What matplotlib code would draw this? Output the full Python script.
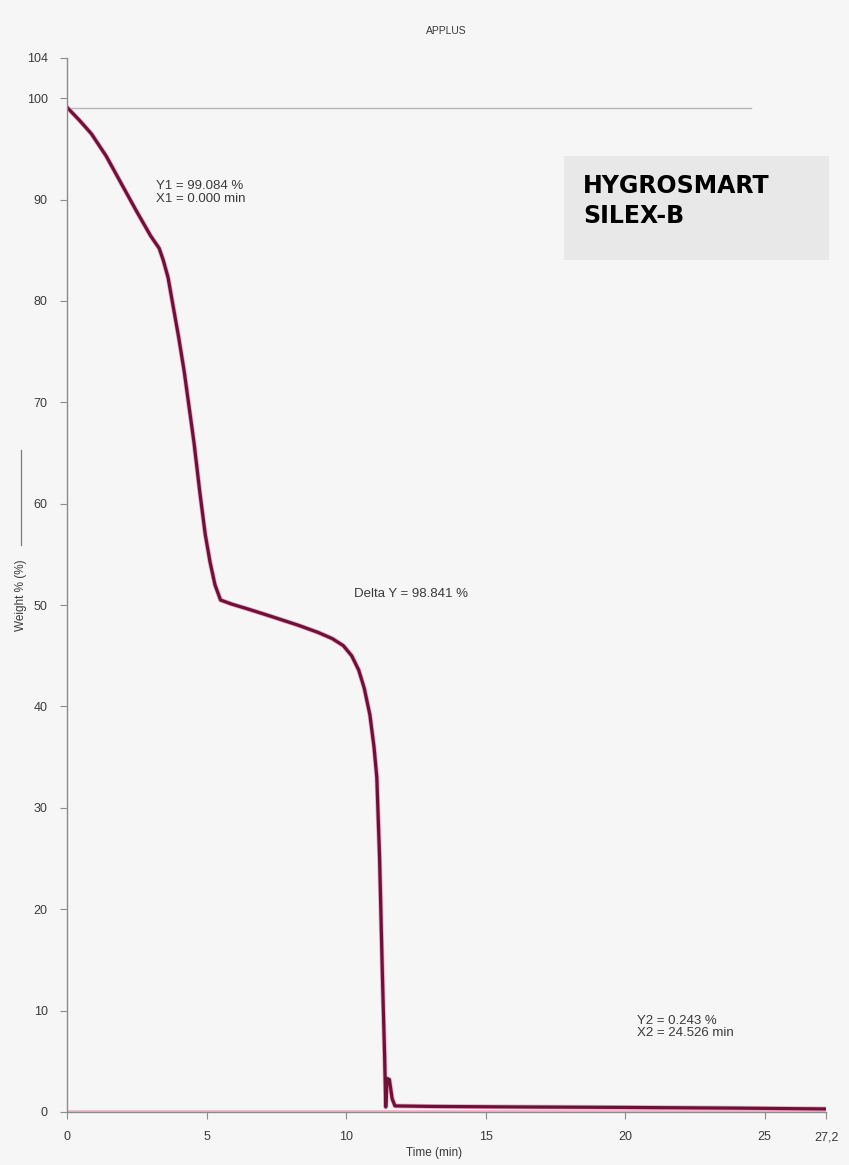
"""TGA curve - HYGROSMART SILEX-B (APPLUS)"""
import matplotlib
matplotlib.use('Agg')
import matplotlib.pyplot as plt
from matplotlib.lines import Line2D

plt.rcParams.update({'font.family': 'Liberation Sans', 'font.size': 9})

# weight loss curve
time_min = [0.0, 0.45, 0.87, 1.4, 2.0, 2.5, 3.0, 3.3, 3.45, 3.62, 3.8, 4.0, 4.2, 4.37,
            4.55, 4.75, 4.95, 5.12, 5.3, 5.5, 5.9, 6.5, 7.3, 8.3, 9.0, 9.5, 9.9, 10.2,
            10.45, 10.65, 10.85, 11.0, 11.1, 11.2, 11.3, 11.38, 11.42, 11.47, 11.55,
            11.65, 11.75, 13.0, 16.0, 20.0, 24.0, 27.2]
weight = [99.1, 97.8, 96.5, 94.3, 91.3, 88.8, 86.4, 85.2, 84.0, 82.3, 79.5, 76.4,
          73.0, 69.6, 66.0, 61.3, 57.0, 54.3, 52.0, 50.5, 50.1, 49.6, 48.9, 48.0,
          47.3, 46.7, 46.0, 45.0, 43.6, 41.8, 39.2, 36.0, 33.0, 25.0, 13.5, 5.5,
          0.5, 3.3, 3.2, 1.3, 0.6, 0.55, 0.5, 0.45, 0.38, 0.3]

Y1, X1 = 99.084, 0.000
Y2, X2 = 0.243, 24.526
DELTA_Y = 98.841

XTICKS = [0, 5, 10, 15, 20, 25, 27.2]
XTICKLABELS = ['0', '5', '10', '15', '20', '25', '27,2']
YTICKS = [0, 10, 20, 30, 40, 50, 60, 70, 80, 90, 100, 104]

BG = '#f6f6f6'
TXT = '#3a3a3a'
fig = plt.figure(figsize=(8.49, 11.65), dpi=100, facecolor=BG)
ax = fig.add_axes([0.079, 0.0455, 0.894, 0.905], facecolor=BG)

# reference line at the start weight
ax.plot([X1, X2], [Y1, Y1], color='#b8b8b8', linewidth=1.0)
ax.plot([0, 27.2], [0.08, 0.08], color='#f0b8cc', linewidth=1.4)
ax.plot(time_min, weight, color='#e9a6c0', linewidth=3.4, solid_joinstyle='round')
ax.plot(time_min, weight, color='#6e1038', linewidth=2.3, solid_joinstyle='round')

ax.set_xlim(0, 27.2)
ax.set_ylim(0, 104)
ax.set_xticks(XTICKS)
ax.set_xticklabels(XTICKLABELS)
ax.set_yticks(YTICKS)
for s in ['top', 'right']:
    ax.spines[s].set_visible(False)
for s in ['left', 'bottom']:
    ax.spines[s].set_color('#8c8c8c')
    ax.spines[s].set_linewidth(1.0)
ax.tick_params(colors='#8c8c8c', labelcolor=TXT, length=5, width=0.8, labelsize=9)
ax.tick_params(axis='y', pad=9)
ax.tick_params(axis='x', pad=9)

ax.set_xlabel('Time (min)', fontsize=8.5, color=TXT)
ax.xaxis.set_label_coords(0.483, -0.033)
ax.set_ylabel('Weight % (%)', fontsize=8.5, color=TXT)
ax.yaxis.set_label_coords(-0.053, 0.49)
ax.set_title('APPLUS', fontsize=7.5, color=TXT, pad=17)
# line sample next to the y label
fig.add_artist(Line2D([21 / 849, 21 / 849], [1 - 450 / 1165, 1 - 545 / 1165],
                      color='#7a7a7a', linewidth=0.9))

ax.text(3.2, 91.9, f'Y1 = {Y1:.3f} %\nX1 = {X1:.3f} min', fontsize=9.5,
        color=TXT, va='top', linespacing=1.05)
ax.text(10.3, 51.1, f'Delta Y = {DELTA_Y:.3f} %', fontsize=9.5, color=TXT, va='center')
ax.text(20.43, 9.6, f'Y2 = {Y2:.3f} %\nX2 = {X2:.3f} min', fontsize=9.5,
        color=TXT, va='top', linespacing=1.05)

# product label box
fig.patches.append(plt.Rectangle((564 / 849, 1 - 260 / 1165), 265 / 849, 104 / 1165,
                                 transform=fig.transFigure, facecolor='#e8e8e8',
                                 edgecolor='none', zorder=0))
fig.text(583 / 849, 1 - 193 / 1165, 'HYGROSMART', fontsize=17, fontweight='bold',
         family='DejaVu Sans', color='black', va='baseline')
fig.text(583 / 849, 1 - 223 / 1165, 'SILEX-B', fontsize=17, fontweight='bold',
         family='DejaVu Sans', color='black', va='baseline')

fig.savefig('out.png', dpi=100, facecolor=BG)
